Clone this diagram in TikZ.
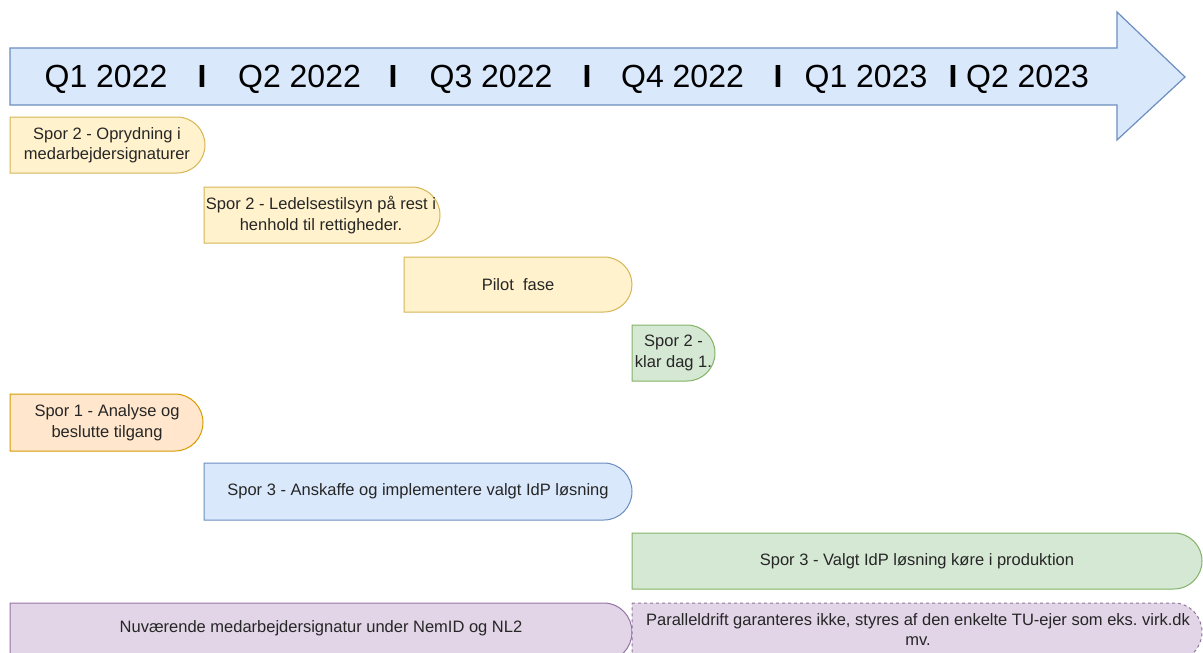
\documentclass[tikz,border=0pt]{standalone}
\usepackage{fontspec}
\setmainfont{Liberation Sans}
\frenchspacing
\definecolor{yfill}{HTML}{FFF2CC}\definecolor{ydraw}{HTML}{D6B656}
\definecolor{ofill}{HTML}{FFE6CC}\definecolor{odraw}{HTML}{D79B00}
\definecolor{bfill}{HTML}{DAE8FC}\definecolor{bdraw}{HTML}{6C8EBF}
\definecolor{gfill}{HTML}{D5E8D4}\definecolor{gdraw}{HTML}{82B366}
\definecolor{pfill}{HTML}{E1D5E7}\definecolor{pdraw}{HTML}{9673A6}
\definecolor{txt}{HTML}{262626}
\newcommand\delaypath[5]{\draw[#1] (#2,#3) -- ({#4-28},#3) arc[start angle=-90,end angle=90,x radius=28,y radius={(#5-#3)/2}] -- (#2,#5) -- cycle;}
\begin{document}
\begin{tikzpicture}[x=1pt,y=-1pt,
  ybox/.style={fill=yfill,draw=ydraw,line width=1pt},
  obox/.style={fill=ofill,draw=odraw,line width=1pt},
  bbox/.style={fill=bfill,draw=bdraw,line width=1pt},
  gbox/.style={fill=gfill,draw=gdraw,line width=1pt},
  pbox/.style={fill=pfill,draw=pdraw,line width=1pt},
  pdash/.style={fill=pfill,draw=pdraw!70!gray,line width=1pt,dash pattern=on 3pt off 3pt},
  lbl/.style={text=txt,align=center,inner sep=0pt,font=\fontsize{16.5}{20.5}\selectfont},
  qlbl/.style={text=black,inner sep=0pt,anchor=base,font=\fontsize{32}{38}\selectfont},
  sep/.style={text=black,inner sep=0pt,anchor=base,font=\fontsize{32}{38}\selectfont\bfseries}]
\useasboundingbox (0,0) rectangle (1203,653);
\clip (0,0) rectangle (1203,653);
\fill[white] (0,0) rectangle (1203,653);
% timeline arrow
\draw[fill=bfill,draw=bdraw,line width=1.2pt] (10,48) -- (1117,48) -- (1117,12) -- (1185,77) -- (1117,140) -- (1117,105) -- (10,105) -- cycle;
\node[qlbl] (q1) at (106,87) {Q1 2022};
\node[sep] (s1) at (202,87) {I};
\node[qlbl] (q2) at (299.5,87) {Q2 2022};
\node[sep] (s2) at (393,87) {I};
\node[qlbl] (q3) at (491,87) {Q3 2022};
\node[sep] (s3) at (587,87) {I};
\node[qlbl] (q4) at (682.5,87) {Q4 2022};
\node[sep] (s4) at (778,87) {I};
\node[qlbl] (q5) at (866,87) {Q1 2023};
\node[sep] (s5) at (953,87) {I};
\node[qlbl] (q6) at (1027.5,87) {Q2 2023};
% boxes
\delaypath{ybox}{10}{117}{205}{173}
\node[lbl] (b1) at (107,145) {Spor 2 - Oprydning i\\medarbejdersignaturer};
\delaypath{ybox}{204}{187}{440}{243}
\node[lbl] (b2) at (321,215) {Spor 2 - Ledelsestilsyn på rest i\\henhold til rettigheder.};
\delaypath{ybox}{404}{257}{632}{312}
\node[lbl] (b3) at (518,284.5) {Pilot\ \ fase};
\delaypath{gbox}{632}{325}{715}{381}
\node[lbl] (b4) at (673.5,353) {Spor 2 -\\klar dag 1.};
\delaypath{obox}{10}{394}{203}{451}
\node[lbl] (b5) at (107,422.5) {Spor 1 - Analyse og\\beslutte tilgang};
\delaypath{bbox}{204}{463}{632}{520}
\node[lbl] (b6) at (418,491.5) {Spor 3 - Anskaffe og implementere valgt IdP løsning};
\delaypath{gbox}{632}{533}{1202}{589}
\node[lbl] (b7) at (917,561) {Spor 3 - Valgt IdP løsning køre i produktion};
\delaypath{pbox}{10}{603}{632}{661}
\node[lbl] (b8) at (321,628) {Nuværende medarbejdersignatur under NemID og NL2};
\delaypath{pdash}{632}{603}{1202}{661}
\node[lbl] (b9) at (918,629.5) {Paralleldrift garanteres ikke, styres af den enkelte TU-ejer som eks. virk.dk\\mv.};
\end{tikzpicture}
\end{document}
